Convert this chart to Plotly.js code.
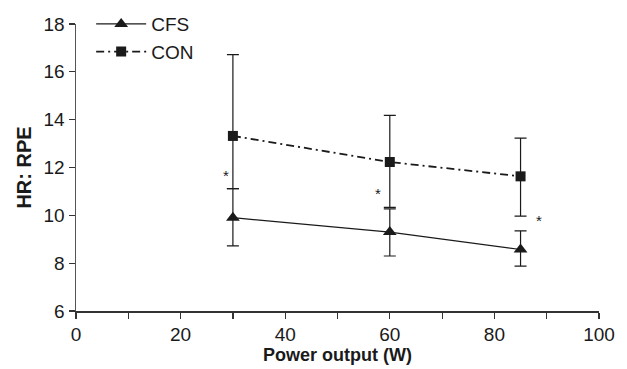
<!DOCTYPE html>
<html>
<head>
<meta charset="utf-8">
<script src="https://cdn.plot.ly/plotly-3.0.1.min.js"></script>
<style>html,body{margin:0;padding:0;background:#fff;}#chart{width:627px;height:369px;}</style>
</head>
<body>
<div id="chart"></div>
<script>
var power = [30, 60, 85];
var cfsMean = [9.9, 9.3, 8.57];
var cfsUpper = [11.12, 10.27, 9.35];
var cfsLower = [8.72, 8.3, 7.88];
var conMean = [13.32, 12.23, 11.63];
var conUpper = [16.72, 14.18, 13.23];
var conLower = [11.12, 10.33, 9.97];
var starX = [28.7, 57.8, 88.6];
var starY = [11.65, 10.92, 9.8];
var xTickVals = [0, 10, 20, 30, 40, 50, 60, 70, 80, 90, 100];
var xTickText = ['0', '', '20', '', '40', '', '60', '', '80', '', '100'];

function diff(a, b) { return a.map(function (v, i) { return Math.abs(v - b[i]); }); }

var cfs = {
  x: power, y: cfsMean, name: 'CFS', type: 'scatter', mode: 'lines+markers',
  line: {color: '#1a1a1a', width: 1.2, dash: 'solid'},
  marker: {symbol: 'triangle-up', size: 12, color: '#1a1a1a'},
  error_y: {type: 'data', symmetric: false,
    array: diff(cfsUpper, cfsMean), arrayminus: diff(cfsMean, cfsLower),
    color: '#1a1a1a', thickness: 1.2, width: 6}
};
var con = {
  x: power, y: conMean, name: 'CON', type: 'scatter', mode: 'lines+markers',
  line: {color: '#1a1a1a', width: 1.8, dash: '8px,4px,2px,4px'},
  marker: {symbol: 'square', size: 10, color: '#1a1a1a'},
  error_y: {type: 'data', symmetric: false,
    array: diff(conUpper, conMean), arrayminus: diff(conMean, conLower),
    color: '#1a1a1a', thickness: 1.2, width: 6}
};

var annotations = starX.map(function (x, i) {
  return {x: x, y: starY[i], xref: 'x', yref: 'y', text: '*', showarrow: false,
    font: {family: 'Liberation Sans, Arial, sans-serif', size: 15, color: '#1a1a1a'}};
});

var layout = {
  width: 627, height: 369,
  margin: {l: 76, r: 28, t: 24, b: 58, autoexpand: false},
  paper_bgcolor: '#fff', plot_bgcolor: '#fff',
  font: {family: 'Liberation Sans, Arial, sans-serif', size: 19, color: '#1a1a1a'},
  showlegend: true,
  legend: {x: 0.029, y: 1.066, xanchor: 'left', yanchor: 'top',
    bgcolor: 'rgba(0,0,0,0)', itemwidth: 50, font: {size: 19}},
  xaxis: {
    range: [0, 100], tickvals: xTickVals, ticktext: xTickText,
    showgrid: false, zeroline: false, showline: true, linecolor: '#333', linewidth: 1.5,
    ticks: 'outside', ticklen: 6, tickcolor: '#333', tickwidth: 1.2,
    tickfont: {size: 19},
    title: {text: '<b>Power output (W)</b>', font: {size: 18}, standoff: 4}
  },
  yaxis: {
    range: [6, 18], dtick: 2, tick0: 6,
    showgrid: false, zeroline: false, showline: true, linecolor: '#555', linewidth: 1.5,
    ticks: 'outside', ticklen: 6, tickcolor: '#333', tickwidth: 1.2,
    tickfont: {size: 19},
    title: {text: '<b>HR: RPE</b>', font: {size: 20}, standoff: 6}
  },
  annotations: annotations
};

Plotly.newPlot('chart', [cfs, con], layout, {displayModeBar: false, staticPlot: true});
</script>
</body>
</html>
